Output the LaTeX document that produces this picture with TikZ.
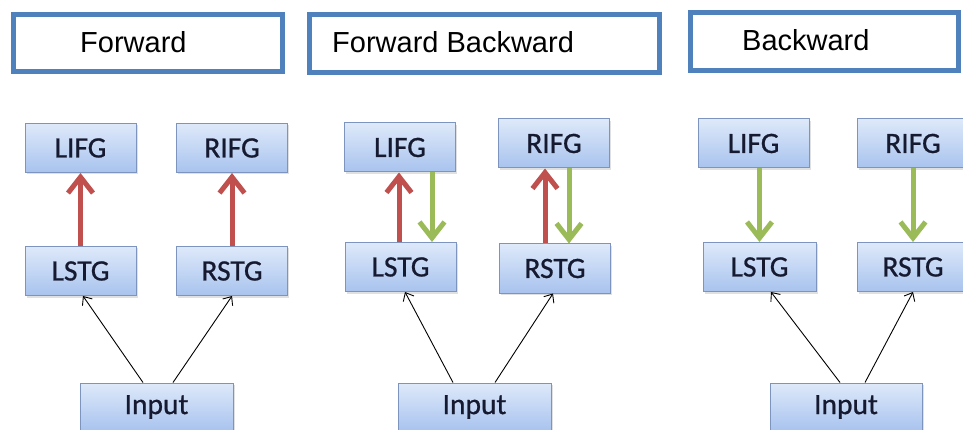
\documentclass[tikz,border=0pt]{standalone}
\usepackage{fontspec}
\setmainfont{Liberation Sans}
\newfontfamily\nodefont[FakeBold=0.8]{Carlito}
\usetikzlibrary{arrows.meta,shadows}
\definecolor{titleblue}{RGB}{79,129,189}
\definecolor{nodetop}{RGB}{222,233,250}
\definecolor{nodebot}{RGB}{168,195,238}
\definecolor{nodeborder}{RGB}{125,148,190}
\definecolor{nodetext}{RGB}{22,26,48}
\definecolor{fwdred}{RGB}{192,80,77}
\definecolor{bwdgreen}{RGB}{155,187,89}
\tikzset{
  titlebox/.style={draw=titleblue, line width=5pt, fill=white, rectangle, inner sep=0pt},
  titletext/.style={anchor=base west, inner sep=0pt, font=\fontsize{29}{30}\selectfont},
  region/.style={rectangle, draw=nodeborder, line width=1pt, top color=nodetop, bottom color=nodebot,
    text=nodetext, font=\nodefont\fontsize{29.5}{30}\selectfont, inner sep=0pt,
    drop shadow={shadow xshift=1.5pt, shadow yshift=-2pt, fill=black!30, opacity=0.4}},
  smallbox/.style={region, minimum width=111pt, minimum height=49pt},
  inputbox/.style={region, minimum width=153pt, minimum height=48pt},
  fwd/.style={draw=fwdred, line width=5pt, -{Straight Barb[length=16pt, width=25pt, line join=miter]}},
  bwd/.style={draw=bwdgreen, line width=5pt, -{Straight Barb[length=16pt, width=25pt, line join=miter]}},
  feed/.style={draw=black, line width=0.9pt, -{Straight Barb[length=7pt, width=12pt]}}
}
\begin{document}
\begin{tikzpicture}[x=1pt, y=-1pt]
\useasboundingbox (0,0) rectangle (963,430);
\clip (0,0) rectangle (963,430);
\fill[white] (0,0) rectangle (963,430);

% Title boxes
\node[titlebox, minimum width=269pt, minimum height=57pt] (t1) at (148,43) {};
\node[titlebox, minimum width=350pt, minimum height=58pt] (t2) at (484.5,43.5) {};
\node[titlebox, minimum width=268pt, minimum height=58pt] (t3) at (824.5,41.5) {};
\node[titletext] (t1text) at (80,53) {Forward};
\node[titletext] (t2text) at (332,53) {Forward Backward};
\node[titletext] (t3text) at (742,51) {Backward};

% Panel 1: Forward
\node[smallbox] (LIFG1) at (80.5,148) {LIFG};
\node[smallbox] (RIFG1) at (232,148) {RIFG};
\node[smallbox] (LSTG1) at (80.5,271) {LSTG};
\node[smallbox] (RSTG1) at (232,271) {RSTG};
\node[inputbox] (IN1) at (156.5,407) {Input};
\draw[fwd] (LSTG1.north) -- (LIFG1.south);
\draw[fwd] (RSTG1.north) -- (RIFG1.south);
\draw[feed] ([xshift=-13.5pt]IN1.north) -- ([xshift=2.5pt]LSTG1.south);
\draw[feed] ([xshift=16.5pt]IN1.north) -- (RSTG1.south);

% Panel 2: Forward Backward
\node[smallbox] (LIFG2) at (400,147.5) {LIFG};
\node[smallbox] (RIFG2) at (554,143.5) {RIFG};
\node[smallbox] (LSTG2) at (400.5,267) {LSTG};
\node[smallbox] (RSTG2) at (555,268.5) {RSTG};
\node[inputbox] (IN2) at (474.5,407) {Input};
\draw[fwd] ([xshift=-1.5pt]LSTG2.north) -- ([xshift=-1.5pt]LSTG2.north |- LIFG2.south);
\draw[bwd] ([xshift=32pt]LIFG2.south) -- ([xshift=32pt]LIFG2.south |- LSTG2.north);
\draw[fwd] ([xshift=-10pt]RSTG2.north) -- ([xshift=-10pt]RSTG2.north |- RIFG2.south);
\draw[bwd] ([xshift=15pt]RIFG2.south) -- ([xshift=15pt]RIFG2.south |- RSTG2.north);
\draw[feed] ([xshift=-21.5pt]IN2.north) -- ([xshift=4.5pt]LSTG2.south);
\draw[feed] ([xshift=20.5pt]IN2.north) -- ([xshift=-2pt]RSTG2.south);

% Panel 3: Backward
\node[smallbox] (LIFG3) at (753.5,143.5) {LIFG};
\node[smallbox] (RIFG3) at (913,143.5) {RIFG};
\node[smallbox, minimum width=113pt] (LSTG3) at (759.5,267) {LSTG};
\node[smallbox] (RSTG3) at (913,267) {RSTG};
\node[inputbox, minimum width=152pt] (IN3) at (846,407) {Input};
\draw[bwd] (LSTG3.north |- LIFG3.south) -- (LSTG3.north);
\draw[bwd] (RIFG3.south) -- (RSTG3.north);
\draw[feed] ([xshift=-6pt]IN3.north) -- ([xshift=11.5pt]LSTG3.south);
\draw[feed] ([xshift=19pt]IN3.north) -- (RSTG3.south);
\end{tikzpicture}
\end{document}
